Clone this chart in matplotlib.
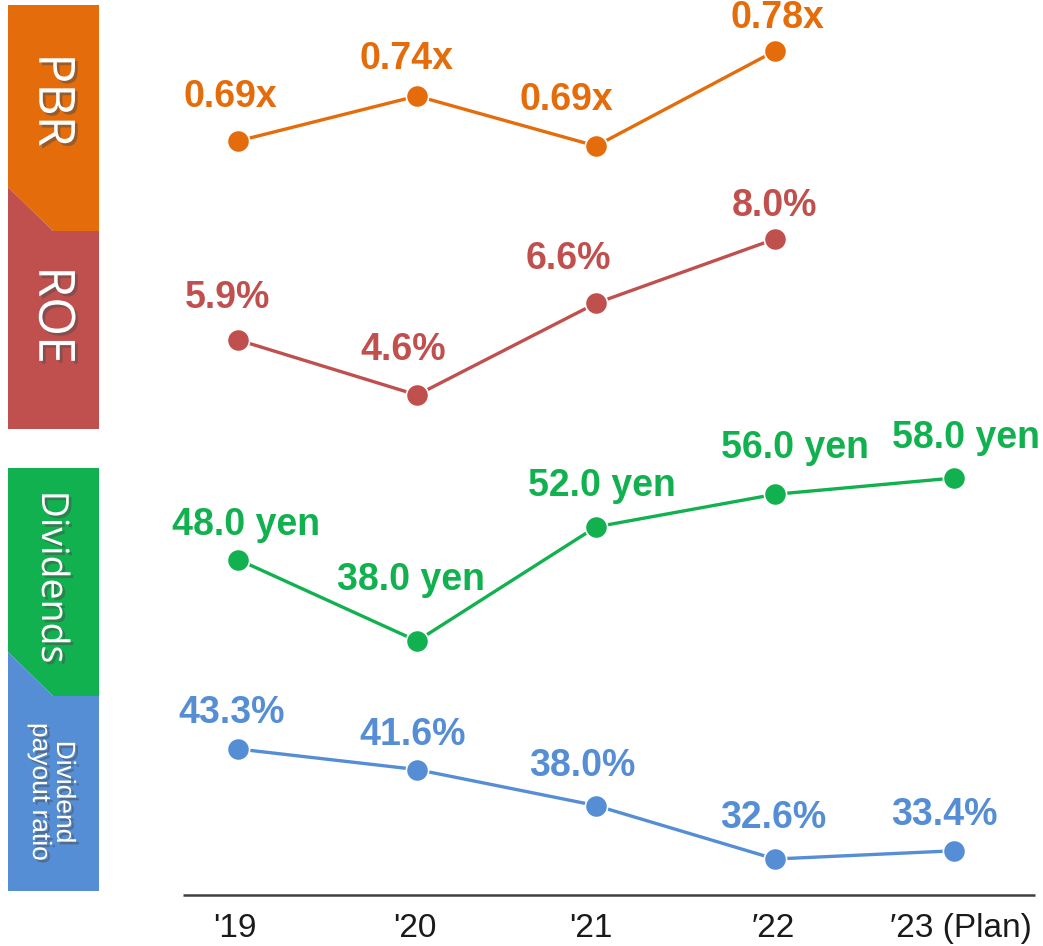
import numpy as np
import matplotlib
matplotlib.use("Agg")
import matplotlib.pyplot as plt
import matplotlib.patheffects as pe
from matplotlib.patches import Polygon
from matplotlib.transforms import blended_transform_factory

# ---- data ----
years = ["'19", "'20", "'21", "\u203222", "\u203223 (Plan)"]
pbr = [0.69, 0.735, 0.685, 0.78]
pbr_txt = ["0.69x", "0.74x", "0.69x", "0.78x"]
roe = [5.8, 4.6, 6.6, 8.0]
roe_txt = ["5.9%", "4.6%", "6.6%", "8.0%"]
dividends = [48.0, 38.0, 52.0, 56.0, 58.0]
div_txt = ["48.0 yen", "38.0 yen", "52.0 yen", "56.0 yen", "58.0 yen"]
payout = [43.3, 41.3, 37.8, 32.6, 33.4]
payout_txt = ["43.3%", "41.6%", "38.0%", "32.6%", "33.4%"]

W, H = 1043, 946
C_PBR = "#E46C0A"
C_ROE = "#C0504D"
C_DIV = "#12B150"
C_PAY = "#558ED5"


def fit_lim(v1, p1, v2, p2, size, from_top=True):
    # limits so that value v1 sits at pixel p1 and v2 at p2
    b1 = size - p1 if from_top else p1
    b2 = size - p2 if from_top else p2
    s = (b2 - b1) / (v2 - v1)
    lo = v1 - b1 / s
    return lo, lo + size / s


fig = plt.figure(figsize=(W / 100, H / 100), dpi=100)
bg = fig.add_axes([0, 0, 1, 1])
bg.set_xlim(0, W)
bg.set_ylim(H, 0)
bg.axis("off")

# left side boxes
boxes = [
    ([(8, 5), (99, 5), (99, 231), (53, 231), (8, 187)], C_PBR),
    ([(8, 187), (53, 231), (99, 231), (99, 429), (8, 429)], C_ROE),
    ([(8, 468), (99, 468), (99, 696), (53, 696), (8, 652)], C_DIV),
    ([(8, 652), (53, 696), (99, 696), (99, 891), (8, 891)], C_PAY),
]
for pts, c in boxes:
    bg.add_patch(Polygon(pts, closed=True, facecolor=c, edgecolor="none", zorder=1))

box_txt = dict(color="white", rotation=-90, ha="center", va="center", zorder=3,
               path_effects=[pe.withSimplePatchShadow(offset=(2, -2), alpha=0.5)])
bg.text(52, 100, "PBR", fontsize=36, family="Open Sans", **box_txt)
bg.text(52, 315, "ROE", fontsize=36, family="Open Sans", **box_txt)
bg.text(52, 577, "Dividends", fontsize=27, family="Open Sans", **box_txt)
bg.text(52, 792, "Dividend\npayout ratio", fontsize=19, linespacing=1.0,
        family=["Liberation Sans", "DejaVu Sans"], **box_txt)

# baseline
bg.plot([183, 1035], [895, 895], color="#404040", lw=1.8, solid_capstyle="butt")

xlim = fit_lim(0, 238, 4, 954, W, from_top=False)

series = [
    (pbr, pbr_txt, C_PBR, (0.69, 141, 0.78, 51),
     [(-8, 44), (-10, 37), (-30, 46), (2, 33)]),
    (roe, roe_txt, C_ROE, (4.6, 395, 8.0, 239),
     [(-10, 42), (-14, 45), (-28, 44), (0, 33)]),
    (dividends, div_txt, C_DIV, (38.0, 641, 58.0, 478),
     [(8, 35), (-6, 61), (6, 41), (20, 46), (12, 40)]),
    (payout, payout_txt, C_PAY, (43.3, 749, 32.6, 859),
     [(-6, 36), (-4, 35), (-14, 40), (-2, 41), (-10, 36)]),
]

lbl_font = ["Liberation Sans", "DejaVu Sans"]
axes = []
for vals, txt, col, anch, offs in series:
    ax = fig.add_axes([0, 0, 1, 1], facecolor="none")
    ax.axis("off")
    ax.set_xlim(*xlim)
    ax.set_ylim(*fit_lim(anch[0], anch[1], anch[2], anch[3], H))
    x = np.arange(len(vals))
    ax.plot(x, vals, color=col, lw=2.4, marker="o", markersize=16,
            markeredgecolor="white", markeredgewidth=1.2, zorder=3)
    for i, (v, t) in enumerate(zip(vals, txt)):
        ax.annotate(t, (i, v), xytext=offs[i], textcoords="offset pixels",
                    ha="center", va="center", fontsize=27, fontweight="bold",
                    color=col, family=lbl_font)
    axes.append(ax)

# x labels
tr = blended_transform_factory(axes[-1].transData, bg.transData)
lbl_dx = [-0.02, -0.01, -0.03, -0.01, 0.04]
for i, lab in enumerate(years):
    bg.text(i + lbl_dx[i], 928, lab, transform=tr, ha="center", va="center",
            fontsize=24, color="#1a1a1a", family=lbl_font)

fig.savefig("out.png", dpi=100)
